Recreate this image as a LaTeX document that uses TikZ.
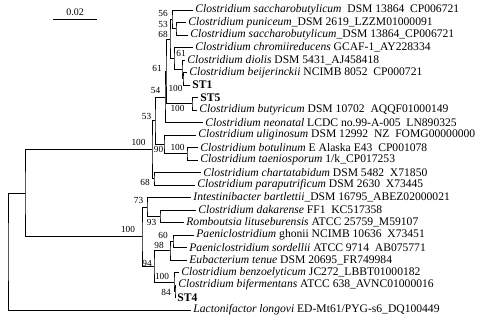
\documentclass[tikz,border=0pt]{standalone}
\usepackage{fontspec}
\setmainfont{Liberation Serif}
\begin{document}
\begin{tikzpicture}[x=1pt,y=-1pt,line width=0.8pt,
  leaf/.style={anchor=west,inner sep=2pt,font=\fontsize{11.6}{12}\selectfont},
  bs/.style={inner sep=0pt,font=\fontsize{9.3}{10}\selectfont}]
  \useasboundingbox (0,0) rectangle (486,327);
  % leaves
  \node[leaf] (csac1) at (193,10) {\textit{Clostridium saccharobutylicum}\ \ DSM 13864\ \ CP006721};
  \node[leaf] (cpun) at (186,22.5) {\textit{Clostridium puniceum}\_DSM 2619\_LZZM01000091};
  \node[leaf] (csac2) at (188,35) {\textit{Clostridium saccharobutylicum}\_DSM 13864\_CP006721};
  \node[leaf] (cchr) at (193,47.5) {\textit{Clostridium chromiireducens} GCAF-1\_AY228334};
  \node[leaf] (cdio) at (185,60) {\textit{Clostridium diolis} DSM 5431\_AJ458418};
  \node[leaf] (cbei) at (187,72.5) {\textit{Clostridium beijerinckii} NCIMB 8052\ \ CP000721};
  \node[leaf] (st1) at (190,85) {\textbf{ST1}};
  \node[leaf] (st5) at (198,97.5) {\textbf{ST5}};
  \node[leaf] (cbut) at (197,110) {\textit{Clostridium butyricum} DSM 10702\ \ AQQF01000149};
  \node[leaf] (cneo) at (203,122.5) {\textit{Clostridium neonatal} LCDC no.99-A-005\ \ LN890325};
  \node[leaf] (culi) at (196,135) {\textit{Clostridium uliginosum} DSM 12992\ \ NZ\ \ FOMG00000000};
  \node[leaf] (cbot) at (198,147.5) {\textit{Clostridium botulinum} E Alaska E43\ \ CP001078};
  \node[leaf] (ctae) at (198,160) {\textit{Clostridium taeniosporum} 1/k\_CP017253};
  \node[leaf] (ccha) at (201,172.5) {\textit{Clostridium chartatabidum} DSM 5482\ \ X71850};
  \node[leaf] (cpar) at (195,185) {\textit{Clostridium paraputrificum} DSM 2630\ \ X73445};
  \node[leaf] (ibar) at (191,197.5) {\textit{Intestinibacter bartlettii}\_DSM 16795\_ABEZ02000021};
  \node[leaf] (cdak) at (196,210) {\textit{Clostridium dakarense} FF1\ \ KC517358};
  \node[leaf] (rlit) at (184,222.5) {\textit{Romboutsia lituseburensis} ATCC 25759\_M59107};
  \node[leaf] (pgho) at (194,235) {\textit{Paeniclostridium} ghonii NCIMB 10636\ \ X73451};
  \node[leaf] (psor) at (187,247.5) {\textit{Paeniclostridium sordellii} ATCC 9714\ \ AB075771};
  \node[leaf] (eten) at (187,260) {\textit{Eubacterium tenue} DSM 20695\_FR749984};
  \node[leaf] (cben) at (179,272.5) {\textit{Clostridium benzoelyticum} JC272\_LBBT01000182};
  \node[leaf] (cbif) at (176,285) {\textit{Clostridium bifermentans} ATCC 638\_AVNC01000016};
  \node[leaf] (st4) at (175,297.5) {\textbf{ST4}};
  \node[leaf] (llon) at (191,310) {\textit{Lactonifactor longovi} ED-Mt61/PYG-s6\_DQ100449};
  % inner nodes
  \coordinate (A) at (172,19.4);
  \coordinate (B) at (176,28.75);
  \coordinate (C) at (170,38.9);
  \coordinate (D) at (174,58.4);
  \coordinate (E) at (182,69.4);
  \coordinate (F) at (183,78.75);
  \coordinate (G) at (166,71.3);
  \coordinate (H) at (192,103.75);
  \coordinate (I) at (165,96.9);
  \coordinate (J) at (155,120.6);
  \coordinate (K) at (164,144.4);
  \coordinate (N) at (187,153.75);
  \coordinate (O) at (154,178.75);
  \coordinate (M) at (152,149.7);
  \coordinate (U) at (160,216.25);
  \coordinate (T) at (147,206.9);
  \coordinate (Y) at (173,241.25);
  \coordinate (W) at (170,250.6);
  \coordinate (Z) at (175,291.25);
  \coordinate (X) at (174,281.9);
  \coordinate (V) at (154,266.25);
  \coordinate (Q) at (142,236.6);
  \coordinate (S) at (25,193.2);
  \coordinate (R) at (8,251.6);
  % branches
  \draw (cpun.west) -| (B) |- (csac2.west);
  \draw (csac1.west) -| (A) |- (B);
  \draw (cbei.west) -| (F) |- (st1.west);
  \draw (cdio.west) -| (E) |- (F);
  \draw (cchr.west) -| (D) |- (E);
  \draw (A) -| (C) |- (D);
  \draw (st5.west) -| (H) |- (cbut.west);
  \draw (C) -| (G) |- (H);
  \draw (G) -| (I) |- (cneo.west);
  \draw (cbot.west) -| (N) |- (ctae.west);
  \draw (culi.west) -| (K) |- (N);
  \draw (I) -| (J) |- (K);
  \draw (ccha.west) -| (O) |- (cpar.west);
  \draw (J) -| (M) |- (O);
  \draw (cdak.west) -| (U) |- (rlit.west);
  \draw (ibar.west) -| (T) |- (U);
  \draw (pgho.west) -| (Y) |- (psor.west);
  \draw (Y) -| (W) |- (eten.west);
  \draw (cbif.west) -| (Z) |- (st4.west);
  \draw (cben.west) -| (X) |- (Z);
  \draw (W) -| (V) |- (X);
  \draw (T) -| (Q) |- (V);
  \draw (M) -| (S) |- (Q);
  \draw (S) -| (R) |- (llon.west);
  % bootstrap values
  \node[bs] (b56) at (163,13) {56};
  \node[bs] (b53a) at (163,24) {53};
  \node[bs] (b68a) at (163,34) {68};
  \node[bs] (b61a) at (181,53) {61};
  \node[bs] (b61b) at (157,68) {61};
  \node[bs] (b100a) at (175.5,88) {100};
  \node[bs] (b54) at (155.5,90) {54};
  \node[bs] (b100b) at (177.5,108) {100};
  \node[bs] (b53b) at (146.5,116) {53};
  \node[bs] (b100c) at (138.5,142) {100};
  \node[bs] (b90) at (158.5,149) {90};
  \node[bs] (b100d) at (177.5,147) {100};
  \node[bs] (b68b) at (145,182) {68};
  \node[bs] (b73) at (138.5,200) {73};
  \node[bs] (b93) at (151.5,222) {93};
  \node[bs] (b100e) at (128,229) {100};
  \node[bs] (b60) at (163,235) {60};
  \node[bs] (b98) at (159,245) {98};
  \node[bs] (b94) at (147,263) {94};
  \node[bs] (b100f) at (162,276) {100};
  \node[bs] (b84) at (166,292) {84};
  % scale bar
  \coordinate (sb1) at (53,19);
  \coordinate (sb2) at (97,19);
  \draw (sb1) -- (sb2) node[bs,midway,above=3pt,font=\fontsize{10}{10}\selectfont] (sbl) {0.02};
\end{tikzpicture}
\end{document}
